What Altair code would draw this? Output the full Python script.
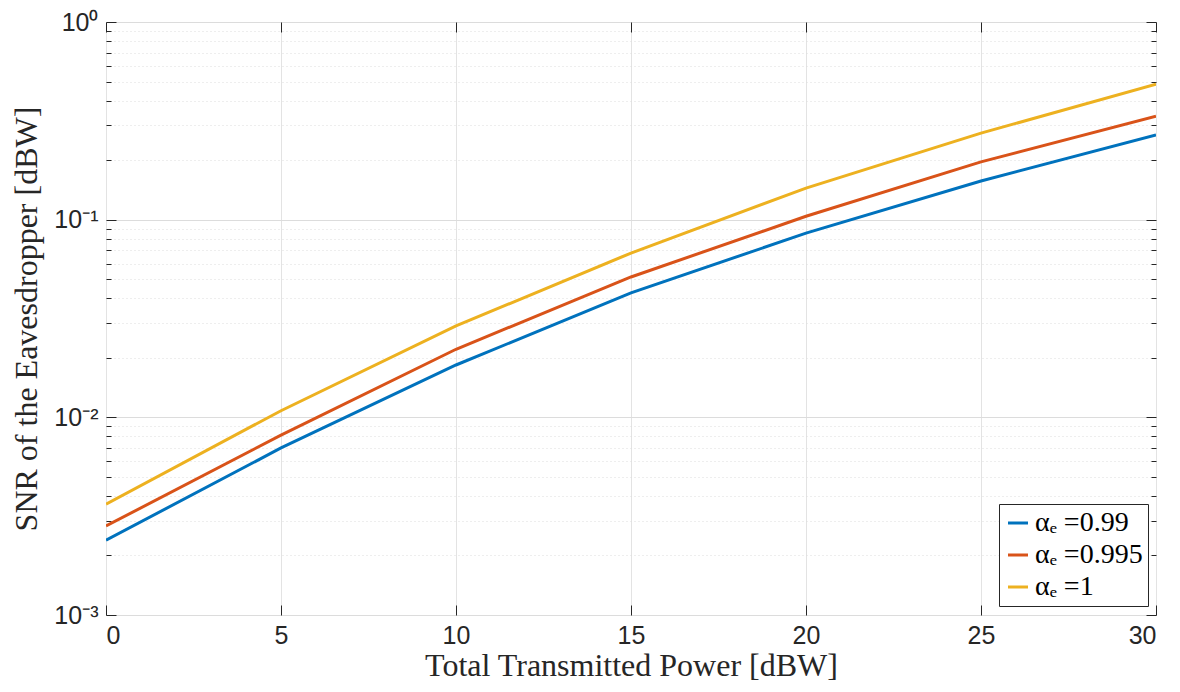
import altair as alt
import pandas as pd

power = [0, 5, 10, 15, 20, 25, 30]
snr_099 = [0.00239, 0.0070, 0.0184, 0.0426, 0.0855, 0.157, 0.268]
snr_0995 = [0.00282, 0.00813, 0.0221, 0.0513, 0.104, 0.196, 0.334]
snr_1 = [0.00364, 0.0108, 0.0290, 0.0678, 0.1445, 0.274, 0.485]
labels = ["αₑ =0.99", "αₑ =0.995", "αₑ =1"]
colors = ["#0072BD", "#D95319", "#EDB120"]
xticks = [0, 5, 10, 15, 20, 25, 30]

rows = []
for lab, ser in zip(labels, [snr_099, snr_0995, snr_1]):
    for p, v in zip(power, ser):
        rows.append({"power": p, "snr": v, "series": lab})
df = pd.DataFrame(rows)

yvals = []
for dec in [0.001, 0.01, 0.1]:
    for m in range(1, 10):
        yvals.append(round(m * dec, 6))
yvals.append(1.0)

ylabel_expr = ("datum.value == 1 ? '10⁰' : datum.value == 0.1 ? '10⁻¹' : "
               "datum.value == 0.01 ? '10⁻²' : datum.value == 0.001 ? '10⁻³' : ''")
minor_test = "abs(log(datum.value)/LN10 - round(log(datum.value)/LN10)) > 0.01"
ytick_size = {"condition": {"test": minor_test, "value": -5}, "value": -10}

xscale = alt.Scale(domain=[0, 30], nice=False, zero=False)
yscale = alt.Scale(type="log", domain=[0.001, 1], nice=False)
cscale = alt.Scale(domain=labels, range=colors)

lines = alt.Chart(df).mark_line(strokeWidth=3, clip=True).encode(
    x=alt.X("power:Q", scale=xscale,
            axis=alt.Axis(title="Total Transmitted Power [dBW]", values=xticks,
                          format="d", labelFont="Liberation Sans", labelFontSize=25,
                          labelColor="#262626", labelPadding=18,
                          titleFont="Liberation Serif", titleFontSize=32, titleFontWeight="normal",
                          titleColor="#262626", titlePadding=2,
                          grid=True, gridColor="#e3e3e3", gridWidth=1,
                          domain=False, ticks=True, tickColor="#262626",
                          tickSize={"expr": "-10"}, tickWidth=1)),
    y=alt.Y("snr:Q", scale=yscale,
            axis=alt.Axis(title="SNR of the Eavesdropper [dBW]", values=yvals,
                          labelExpr=ylabel_expr, labelFont="Liberation Sans", labelFontSize=25,
                          labelColor="#262626", labelPadding=18,
                          titleFont="Liberation Serif", titleFontSize=32, titleFontWeight="normal",
                          titleColor="#262626", titlePadding=10,
                          grid=True, gridColor="#dcdcdc", gridWidth=1,
                          gridDash={"condition": {"test": minor_test, "value": [1, 3]}, "value": []},
                          domain=False, ticks=True, tickColor="#262626",
                          tickSize=ytick_size, tickWidth=1)),
    color=alt.Color("series:N", scale=cscale,
                    legend=alt.Legend(title=None, orient="none", legendX=893, legendY=482,
                                      labelFont="Liberation Serif", labelFontSize=28,
                                      labelColor="#000000", symbolType="stroke",
                                      symbolStrokeWidth=3, symbolSize=400,
                                      strokeColor="#262626", fillColor="white",
                                      padding=5, rowPadding=4, labelOffset=3,
                                      cornerRadius=0)),
)

mirror = alt.Chart(df).mark_line(strokeWidth=0, opacity=0).encode(
    x=alt.X("power:Q", scale=xscale,
            axis=alt.Axis(orient="top", title=None, values=xticks, labels=False, grid=False,
                          domain=False, ticks=True, tickColor="#262626",
                          tickSize={"expr": "-10"}, tickWidth=1)),
    y=alt.Y("snr:Q", scale=yscale,
            axis=alt.Axis(orient="right", title=None, values=yvals, labels=False, grid=False,
                          domain=False, ticks=True, tickColor="#262626",
                          tickSize=ytick_size, tickWidth=1)),
)

chart = alt.layer(lines, mirror).resolve_axis(
    x="independent", y="independent"
).properties(
    width=1050, height=593,
    autosize=alt.AutoSizeParams(type="none"),
    padding={"left": 106, "top": 22, "right": 24, "bottom": 77},
).configure_view(
    stroke="#262626", strokeWidth=1.3
).configure(background="white")

chart.save("out.html", embed_options={"renderer": "svg", "actions": False})
